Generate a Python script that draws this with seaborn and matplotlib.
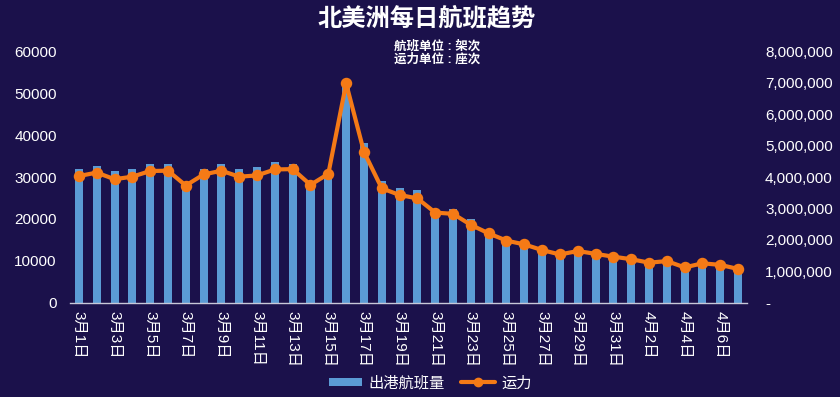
import numpy as np
import pandas as pd
import matplotlib
matplotlib.use("Agg")
import matplotlib.pyplot as plt
from matplotlib.lines import Line2D
from matplotlib.patches import Patch
from matplotlib.ticker import FuncFormatter
import seaborn as sns

# ---------------- data ----------------
dates = ([f"3月{d}日" for d in range(1, 32)] + [f"4月{d}日" for d in range(1, 8)])
flights = [31900, 32700, 31500, 31900, 33100, 33100, 28400, 31900, 33100, 31900,
           32300, 33500, 33100, 28900, 30900, 53100, 38200, 29000, 27300, 26900,
           21700, 22300, 19900, 17400, 14600, 13800, 13000, 11600, 12600, 11800,
           10600, 10200, 9000, 10200, 8300, 9000, 9000, 8300]
capacity = [4030000, 4140000, 3930000, 4010000, 4190000, 4200000, 3730000, 4080000,
            4200000, 4010000, 4050000, 4240000, 4250000, 3750000, 4100000, 6970000,
            4800000, 3640000, 3430000, 3320000, 2870000, 2830000, 2480000, 2210000,
            1980000, 1860000, 1680000, 1540000, 1650000, 1560000, 1470000, 1390000,
            1280000, 1330000, 1130000, 1260000, 1210000, 1080000]
title = "北美洲每日航班趋势"
subtitle = "航班单位 : 架次\n运力单位 : 座次"
bar_label = "出港航班量"
line_label = "运力"

df = pd.DataFrame({"date": dates, "flights": flights, "capacity": capacity})

# ---------------- style ----------------
BG = "#1b114b"
BAR = "#5b9bd5"
LINE = "#f57a16"
TXT = "#ffffff"

sns.set_style("white")
plt.rcParams["font.family"] = ["Liberation Sans", "Noto Sans CJK SC", "DejaVu Sans"]
plt.rcParams["axes.unicode_minus"] = False

fig = plt.figure(figsize=(8.4, 3.97), dpi=100, facecolor=BG)
ax = fig.add_axes([0.0833, 0.2368, 0.8060, 0.6347])
ax.set_facecolor(BG)

sns.barplot(data=df, x="date", y="flights", color=BAR, width=0.45,
            saturation=1, linewidth=0, edgecolor="none", ax=ax)

ax2 = ax.twinx()
sns.pointplot(data=df, x="date", y="capacity", color=LINE, markers="o",
              markersize=6, linewidth=3, ax=ax2)

n = len(dates)
for a in (ax, ax2):
    a.set_xlim(-0.5, n - 0.5)
    a.set_xlabel("")
    a.set_ylabel("")
    for s in a.spines.values():
        s.set_visible(False)

ax.set_ylim(0, 60000)
ax.set_yticks(np.arange(0, 60001, 10000))
ax.tick_params(axis="y", colors=TXT, labelsize=11, length=0, pad=9.5)
ax2.set_ylim(0, 8000000)
ax2.set_yticks(np.arange(0, 8000001, 1000000))
ax2.yaxis.set_major_formatter(FuncFormatter(lambda v, p: "-" if v == 0 else f"{int(v):,}"))
ax2.tick_params(axis="y", colors=TXT, labelsize=11, length=0, pad=13)

# x axis: labels every 2 days, ticks at boundaries
ax.set_xticks(np.arange(0, n, 2))
ax.set_xticklabels(dates[::2], rotation=270, color=TXT, fontsize=11)
ax.set_xticks(np.arange(-0.5, n, 2), minor=True)
ax.tick_params(axis="x", which="major", length=0, pad=6, labelbottom=True)
ax.tick_params(axis="x", which="minor", length=4, color="#c8c8d8", width=1)
ax.spines["bottom"].set_visible(True)
ax.spines["bottom"].set_color("#c8c8d8")
ax.spines["bottom"].set_linewidth(1)
ax2.tick_params(axis="x", which="both", length=0, labelbottom=False, labeltop=False)

# titles
fig.text(0.508, 0.953, title, ha="center", va="center", color=TXT,
         fontsize=17.5, fontweight="bold")
fig.text(0.52, 0.866, subtitle, ha="center", va="center", color=TXT,
         fontsize=9, fontweight="bold", linespacing=1.05)

# legend
handles = [Patch(facecolor=BAR, edgecolor="none"),
           Line2D([0], [0], color=LINE, lw=3, marker="o", markersize=6)]
leg = fig.legend(handles, [bar_label, line_label], loc="center",
                 bbox_to_anchor=(0.512, 0.035), ncol=2, frameon=False,
                 fontsize=11, handlelength=2.2, handleheight=0.5,
                 columnspacing=1.1, handletextpad=0.4)
for t in leg.get_texts():
    t.set_color(TXT)

fig.savefig("out.png", dpi=100, facecolor=BG)
